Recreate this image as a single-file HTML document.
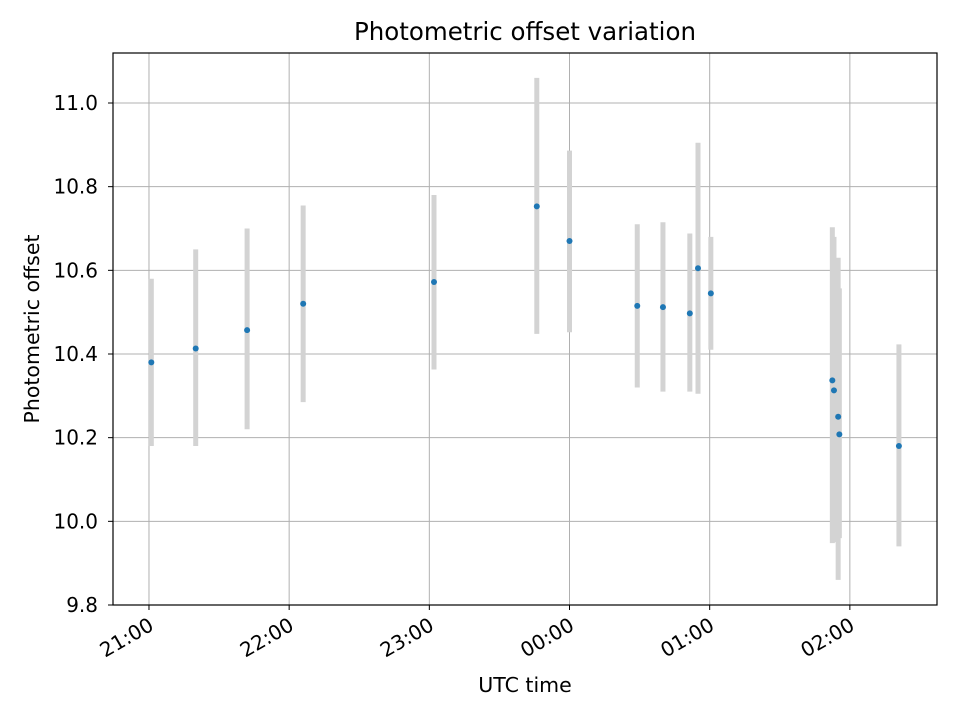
<!DOCTYPE html>
<html><head><meta charset="utf-8"><style>
body{margin:0;background:#fff;}
svg{display:block;font-family:"DejaVu Sans","Liberation Sans",sans-serif;}
</style></head><body>
<svg id="chart" width="960" height="720" viewBox="0 0 960 720" xmlns="http://www.w3.org/2000/svg">
<rect x="0" y="0" width="960" height="720" fill="#fff"/>
<g id="grid"></g>
<g id="errs"></g>
<g id="pts"></g>
<rect x="113" y="53" width="824" height="552" fill="none" stroke="#000" stroke-width="1.2"/>
<g id="ticks"></g>
<text x="525" y="40" text-anchor="middle" font-size="24.5">Photometric offset variation</text>
<text x="525" y="692" text-anchor="middle" font-size="20.5">UTC time</text>
<text x="39" y="329" text-anchor="middle" font-size="20.5" transform="rotate(-90 39 329)">Photometric offset</text>
</svg>
<script>
// minutes after 21:00 UTC
const times = [1, 20, 42, 66, 122, 166, 180, 209, 220, 231.5, 235, 240.5, 292.5, 293.2, 295, 295.5, 321];
const values = [10.38, 10.413, 10.457, 10.52, 10.572, 10.753, 10.67, 10.515, 10.512, 10.497, 10.605, 10.545, 10.337, 10.313, 10.25, 10.208, 10.18];
const errLow = [10.18, 10.18, 10.22, 10.285, 10.363, 10.448, 10.452, 10.32, 10.31, 10.31, 10.305, 10.41, 9.948, 9.95, 9.86, 9.96, 9.94];
const errHigh = [10.58, 10.65, 10.70, 10.755, 10.78, 11.06, 10.886, 10.71, 10.715, 10.688, 10.905, 10.68, 10.703, 10.68, 10.63, 10.557, 10.423];
const yTicks = [9.8, 10.0, 10.2, 10.4, 10.6, 10.8, 11.0];
const xTickMinutes = [0, 60, 120, 180, 240, 300];
const xTickLabels = ["21:00", "22:00", "23:00", "00:00", "01:00", "02:00"];

const NS = "http://www.w3.org/2000/svg";
const X0 = 113, X1 = 937, Y0 = 53, Y1 = 605;
const xMin = -15.4, xMax = 337.3, yMin = 9.8, yMax = 11.1195;
function xs(m){ return X0 + (m - xMin) / (xMax - xMin) * (X1 - X0); }
function ys(v){ return Y1 - (v - yMin) / (yMax - yMin) * (Y1 - Y0); }
function mk(tag, attrs, parent){ const e = document.createElementNS(NS, tag); for (const k in attrs) e.setAttribute(k, attrs[k]); parent.appendChild(e); return e; }
const grid = document.getElementById('grid'), ticks = document.getElementById('ticks');
const errs = document.getElementById('errs'), pts = document.getElementById('pts');

yTicks.forEach(v => {
  const y = ys(v);
  const g = mk('line', {x1: X0, x2: X1, y1: y, y2: y, stroke: '#b0b0b0', 'stroke-width': 1}, grid);
  
  
  mk('line', {x1: X0 - 5, x2: X0, y1: y, y2: y, stroke: '#000', 'stroke-width': 1}, ticks);
  const t = mk('text', {x: X0 - 15, y: y + 7, 'text-anchor': 'end', 'font-size': 20}, ticks);
  t.textContent = v.toFixed(1);
  
  
});
xTickMinutes.forEach((m, i) => {
  const x = xs(m);
  const g = mk('line', {x1: x, x2: x, y1: Y0, y2: Y1, stroke: '#b0b0b0', 'stroke-width': 1}, grid);
  
  
  mk('line', {x1: x, x2: x, y1: Y1, y2: Y1 + 5, stroke: '#000', 'stroke-width': 1}, ticks);
  const tx = x + 6, ty = Y1 + 24;
  const t = mk('text', {x: tx, y: ty, 'text-anchor': 'end', 'font-size': 20, transform: `rotate(-30 ${tx} ${ty})`}, ticks);
  t.textContent = xTickLabels[i];
  
  
});
times.forEach((m, i) => {
  const x = xs(m);
  const e = mk('line', {x1: x, x2: x, y1: ys(errLow[i]), y2: ys(errHigh[i]), stroke: '#d3d3d3', 'stroke-width': 5}, errs);
  
  
});
times.forEach((m, i) => {
  const c = mk('circle', {cx: xs(m), cy: ys(values[i]), r: 3, fill: '#1f77b4'}, pts);
  
  
});
</script>
</body></html>
